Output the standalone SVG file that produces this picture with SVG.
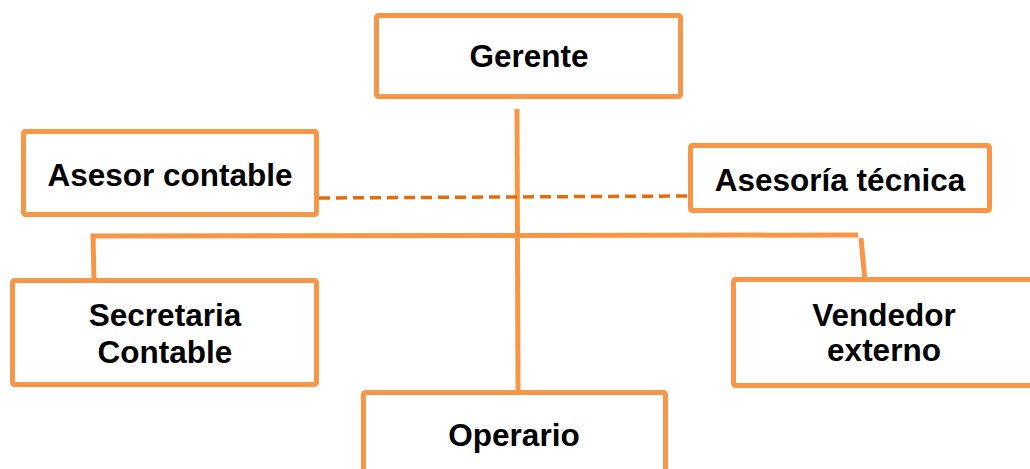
<svg xmlns="http://www.w3.org/2000/svg" width="1030" height="469" viewBox="0 0 1030 469">
<style>
.box{fill:#ffffff;stroke:#F79646;stroke-width:5;}
.lbl{font-family:"Liberation Sans",Arial,sans-serif;font-weight:bold;font-size:31.5px;fill:#000000;text-anchor:middle;}
.ln{stroke:#F79646;stroke-width:5;fill:none;}
.dash{stroke:#E46C0A;stroke-width:3.5;stroke-dasharray:11 6;fill:none;}
</style>
<rect width="1030" height="469" fill="#ffffff"/>
<g id="connectors">
<line class="ln" x1="517" y1="109" x2="518" y2="390"/>
<polyline class="ln" points="94,279 93,236 858,235"/>
<line class="ln" x1="861" y1="238" x2="866" y2="292"/>
<line class="dash" x1="319" y1="198" x2="688" y2="196"/>
</g>
<g id="gerente">
<rect class="box" x="376.5" y="15.5" width="304" height="81" rx="2"/>
<text class="lbl" x="529" y="67">Gerente</text>
</g>
<g id="asesor-contable">
<rect class="box" x="23.5" y="131.5" width="293" height="83" rx="2"/>
<text class="lbl" x="170" y="186">Asesor contable</text>
</g>
<g id="asesoria-tecnica">
<rect class="box" x="690.5" y="145.5" width="299" height="65" rx="2"/>
<text class="lbl" x="840" y="191">Asesoría técnica</text>
</g>
<g id="secretaria">
<rect class="box" x="12.5" y="280.5" width="304" height="104" rx="2"/>
<text class="lbl" x="165" y="326">Secretaria</text>
<text class="lbl" x="165" y="363">Contable</text>
</g>
<g id="operario">
<rect class="box" x="363.5" y="392.5" width="302" height="90" rx="2"/>
<text class="lbl" x="514" y="446">Operario</text>
</g>
<g id="vendedor">
<rect class="box" x="733.5" y="279.5" width="310" height="106" rx="2"/>
<text class="lbl" x="884" y="326">Vendedor</text>
<text class="lbl" x="884" y="361">externo</text>
</g>
</svg>
